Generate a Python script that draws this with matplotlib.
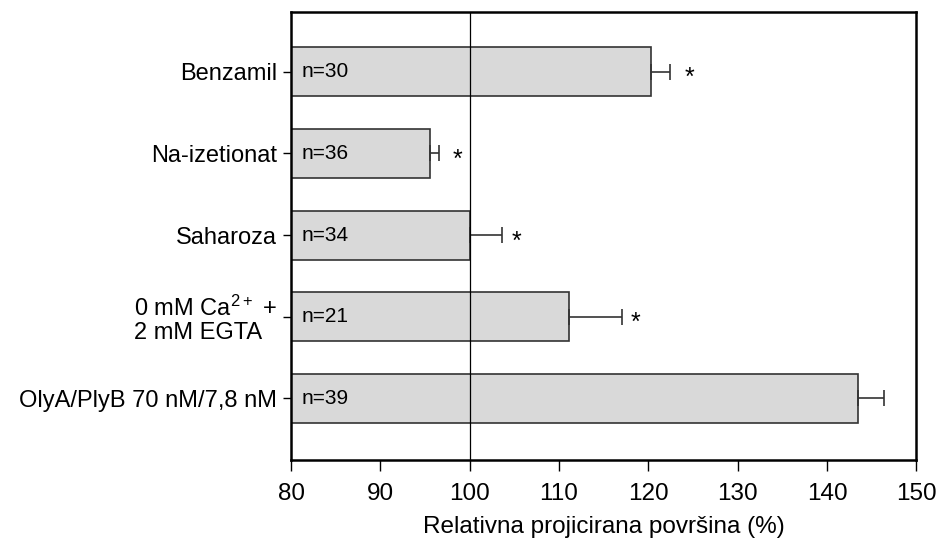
import numpy as np
import matplotlib.pyplot as plt

plt.rcParams['font.family'] = ['Liberation Sans', 'DejaVu Sans']
plt.rcParams['mathtext.default'] = 'regular'

labels = ['Benzamil', 'Na-izetionat', 'Saharoza',
          '0 mM Ca$^{2+}$ +\n2 mM EGTA', 'OlyA/PlyB 70 nM/7,8 nM']
values = [120.3, 95.6, 100.0, 111.1, 143.5]
errors = [2.1, 1.0, 3.6, 6.0, 2.9]
n_text = ['n=30', 'n=36', 'n=34', 'n=21', 'n=39']
signif = [True, True, True, True, False]
star_x = [124.6, 98.6, 105.2, 118.6]

base = 80


def main():
    fig = plt.figure(figsize=(9.36, 5.48), dpi=100)
    ax = fig.add_axes([0.311, 0.161, 0.668, 0.817])

    y = np.arange(len(labels))
    widths = [v - base for v in values]
    ax.barh(y, widths, left=base, height=0.6, color='#d9d9d9',
            edgecolor='#333333', linewidth=1.2, zorder=2)
    ax.errorbar(values, y, xerr=[np.zeros(len(errors)), errors], fmt='none',
                ecolor='#333333', elinewidth=1.2, capsize=6, capthick=1.2,
                zorder=3)
    ax.axvline(100, color='black', lw=0.9, zorder=4)

    for i, t in enumerate(n_text):
        ax.text(81.2, y[i], t, va='center', ha='left', fontsize=15, zorder=5)
    for i, s in enumerate(signif):
        if s:
            ax.text(star_x[i], y[i] + 0.08, '*', va='center', ha='center',
                    fontsize=18, zorder=5)

    ax.set_xlim(80, 150)
    ax.set_ylim(len(labels) - 0.25, -0.73)
    ax.set_xticks(range(80, 151, 10))
    ax.set_yticks(y)
    ax.set_yticklabels(labels, fontsize=17, multialignment='left',
                       linespacing=1.05)
    ax.tick_params(axis='x', labelsize=17.5, direction='out', length=8,
                   width=1, pad=9)
    ax.tick_params(axis='y', direction='out', length=6, width=1, pad=4)
    for sp in ax.spines.values():
        sp.set_linewidth(1.8)
    ax.set_xlabel('Relativna projicirana površina (%)', fontsize=17.5,
                  labelpad=8)

    fig.savefig('out.png', dpi=100)


if __name__ == "__main__":
    main()
